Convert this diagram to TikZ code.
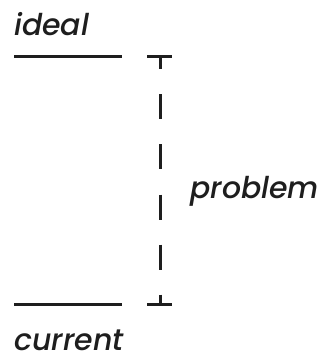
\documentclass[tikz,border=0pt]{standalone}
\usepackage{fontspec}
\newfontfamily\tagfont{Poppins Medium Italic}
\usetikzlibrary{positioning}

\definecolor{ink}{HTML}{1E1E1E}

\begin{document}
\begin{tikzpicture}[
        x = 1pt, y = -1pt,
        line join=round,
        levelline/.style = {line width=3pt, ink},
        gapline/.style = {line width=3pt, ink, dash pattern=on 25pt off 25pt, dash phase=12.5pt},
        tag/.style = {anchor=base west, inner sep=0pt, text=ink, font=\fontsize{30}{32}\tagfont}
    ]
        \useasboundingbox (0, 0) rectangle (325, 355);

        \coordinate (idealL) at (14, 57);
        \coordinate (idealR) at (122, 57);
        \coordinate (currentL) at (14, 304);
        \coordinate (currentR) at (122, 304);
        \coordinate (top) at (160, 57);
        \coordinate (bottom) at (160, 304);

        % the two levels
        \draw[levelline] (idealL) -- (idealR);
        \draw[levelline] (currentL) -- (currentR);

        % gap between them
        \draw[levelline] ([xshift=-13pt]top) -- ([xshift=12pt]top);
        \draw[levelline] ([xshift=-13pt]bottom) -- ([xshift=12pt]bottom);
        \draw[gapline] (top) -- (bottom);

        \node[tag] (ideal) at (14, 36) {ideal};
        \node[tag] (current) at (14, 350) {current};
        \node[tag] (problem) at (190, 198) {problem};

    \end{tikzpicture}
\end{document}
